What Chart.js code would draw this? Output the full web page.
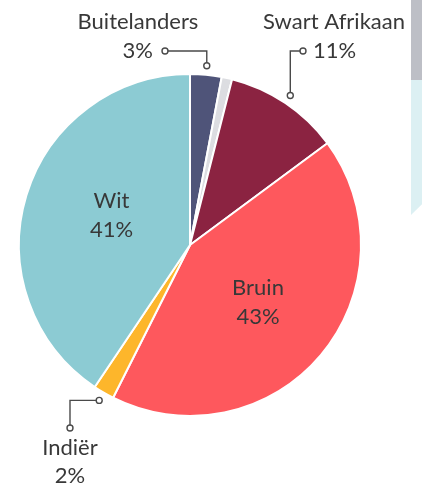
<!DOCTYPE html>
<html>
<head>
<meta charset="utf-8">
<script src="https://cdn.jsdelivr.net/npm/chart.js@4/dist/chart.umd.min.js"></script>
<style>
  html, body { margin: 0; padding: 0; background: #fff; }
  #wrap { position: relative; width: 422px; height: 484px; overflow: hidden; }
  #grey { position: absolute; left: 411px; top: 0; width: 11px; height: 80px; background: #bdbfc6; }
  #blue { position: absolute; left: 411px; top: 80px; width: 11px; height: 135px; background: #dcf0f3;
          clip-path: polygon(0 0, 100% 0, 100% 92%, 0 100%); }
  canvas { position: absolute; left: 0; top: 0; }
</style>
</head>
<body>
<div id="wrap">
  <div id="grey"></div>
  <div id="blue"></div>
  <canvas id="pie" width="422" height="484"></canvas>
</div>
<script>
    "use strict";

    var categories = ["Buitelanders", "Ander", "Swart Afrikaan", "Bruin", "Indiër", "Wit"];
    var values = [3, 1, 11, 43, 2, 41];
    var percentLabels = ["3%", "", "11%", "43%", "2%", "41%"];
    var colors = ["#4f5479", "#dcdde1", "#8b2341", "#fe585d", "#fdb62b", "#8ccbd3"];

    var FONT = "Lato, 'Open Sans', sans-serif";
    var TEXT = "#383838";

    // inside labels: distance along the mid angle (fraction of radius) plus a small nudge
    var insideLabels = {
        3: { r: 0.52, dx: 0, dy: 0 },
        5: { r: 0.48, dx: 0, dy: -6 },
    };

    // outside labels with a leader line
    var outsideLabels = {
        0: { nameX: 138, nameY: 22, pctX: 153, pctY: 51, align: "right", lineTo: "left" },
        2: { nameX: 334, nameY: 22, pctX: 313, pctY: 51, align: "left", lineTo: "right" },
        4: { nameX: 70, nameY: 448, pctX: 70, pctY: 476, align: "center", below: true },
    };

    function dot(ctx, x, y) {
        ctx.beginPath();
        ctx.arc(x, y, 3, 0, Math.PI * 2);
        ctx.fillStyle = "#fff";
        ctx.fill();
        ctx.stroke();
    }

    var labelPlugin = {
        id: "pieLabels",
        afterDatasetsDraw: function (chart) {
            var ctx = chart.ctx;
            var arcs = chart.getDatasetMeta(0).data;
            ctx.save();
            ctx.font = "22px " + FONT;
            ctx.fillStyle = TEXT;
            ctx.textBaseline = "middle";

            Object.keys(insideLabels).forEach(function (i) {
                var a = arcs[i];
                var l = insideLabels[i];
                var mid = (a.startAngle + a.endAngle) / 2;
                var r = a.outerRadius * l.r;
                var x = a.x + Math.cos(mid) * r + l.dx;
                var y = a.y + Math.sin(mid) * r + l.dy;
                ctx.textAlign = "center";
                ctx.fillText(categories[i], x, y - 14);
                ctx.fillText(percentLabels[i], x, y + 15);
            });

            ctx.strokeStyle = "#4a4a4a";
            ctx.lineWidth = 1.4;
            Object.keys(outsideLabels).forEach(function (i) {
                var o = outsideLabels[i];
                var a = arcs[i];
                var mid = (a.startAngle + a.endAngle) / 2;
                var r = a.outerRadius + 9;
                var ax = a.x + Math.cos(mid) * r;
                var ay = a.y + Math.sin(mid) * r;

                ctx.fillStyle = TEXT;
                ctx.textAlign = "center";
                ctx.fillText(categories[i], o.nameX, o.nameY);
                ctx.textAlign = o.align;
                ctx.fillText(percentLabels[i], o.pctX, o.pctY);

                var ex, ey;
                if (o.below) {
                    ex = o.nameX;
                    ey = o.nameY - 20;
                    ctx.beginPath();
                    ctx.moveTo(ax, ay);
                    ctx.lineTo(ex, ay);
                    ctx.lineTo(ex, ey);
                    ctx.stroke();
                } else {
                    ex = o.lineTo === "left" ? o.pctX + 12 : o.pctX - 10;
                    ey = o.pctY;
                    ctx.beginPath();
                    ctx.moveTo(ax, ay);
                    ctx.lineTo(ax, ey);
                    ctx.lineTo(ex, ey);
                    ctx.stroke();
                }
                dot(ctx, ax, ay);
                dot(ctx, ex, ey);
            });
            ctx.restore();
        },
    };

    new Chart(document.getElementById("pie"), {
        type: "pie",
        data: {
            labels: categories,
            datasets: [
                {
                    data: values,
                    backgroundColor: colors,
                    borderColor: "#ffffff",
                    borderWidth: 2,
                },
            ],
        },
        options: {
            responsive: false,
            animation: false,
            layout: { padding: { left: 18, right: 60, top: 73, bottom: 67 } },
            plugins: {
                legend: { display: false },
                tooltip: { enabled: false },
            },
        },
        plugins: [labelPlugin],
    });
</script>
</body>
</html>
